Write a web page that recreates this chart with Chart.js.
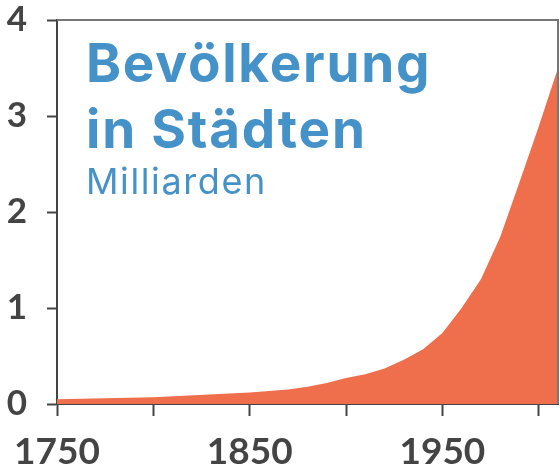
<!DOCTYPE html>
<html>
<head>
<meta charset="utf-8">
<script src="https://cdn.jsdelivr.net/npm/chart.js@4"></script>
<style>
  html, body { margin: 0; padding: 0; background: #fff; }
  #wrap { position: relative; width: 560px; height: 464px; }
  .t { position: absolute; left: 86px; color: #4592c9; font-family: Inter, "Open Sans", sans-serif; white-space: nowrap; }
  #t1 { top: 37px; font-size: 53px; font-weight: 700; line-height: 1; letter-spacing: 1.8px; }
  #t2 { top: 103px; font-size: 53px; font-weight: 700; line-height: 1; letter-spacing: 1.8px; }
  #t3 { top: 163px; font-size: 36px; font-weight: 400; line-height: 1; letter-spacing: 1.6px; }
</style>
</head>
<body>
<div id="wrap">
  <canvas id="chart" width="560" height="464"></canvas>
  <div class="t" id="t1">Bevölkerung</div>
  <div class="t" id="t2">in Städten</div>
  <div class="t" id="t3">Milliarden</div>
</div>
<script>
const years = [1750, 1800, 1850, 1870, 1880, 1890, 1900, 1910, 1920, 1930, 1940, 1950, 1960, 1970, 1980, 1990, 2000, 2010];
const urban = [0.05, 0.07, 0.12, 0.15, 0.18, 0.22, 0.27, 0.31, 0.37, 0.46, 0.57, 0.74, 1.0, 1.3, 1.74, 2.31, 2.89, 3.5];
const xLabels = [1750, 1850, 1950];
const yTicks = [0, 1, 2, 3, 4];

const axisColor = '#444';

// top and right frame lines
const frame = {
  id: 'frame',
  afterDraw(chart) {
    const { ctx, chartArea: a } = chart;
    ctx.save();
    ctx.strokeStyle = '#777';
    ctx.lineWidth = 2;
    ctx.beginPath();
    ctx.moveTo(a.left, a.top);
    ctx.lineTo(a.right, a.top);
    ctx.lineTo(a.right, a.bottom);
    ctx.stroke();
    ctx.restore();
  }
};

new Chart(document.getElementById('chart'), {
  type: 'line',
  data: {
    datasets: [{
      data: years.map((y, i) => ({ x: y, y: urban[i] })),
      fill: 'origin',
      backgroundColor: '#ef6e4b',
      borderWidth: 0,
      pointRadius: 0,
      tension: 0
    }]
  },
  options: {
    responsive: false,
    animation: false,
    layout: { padding: { top: 20, right: 2, left: 0, bottom: 0 } },
    plugins: { legend: { display: false }, tooltip: { enabled: false } },
    scales: {
      x: {
        type: 'linear',
        min: 1750,
        max: 2010,
        afterFit(s) { s.height = 60; s.paddingLeft = 0; s.paddingRight = 0; },
        border: { color: axisColor, width: 2 },
        grid: { drawOnChartArea: false, tickLength: 12, tickColor: axisColor, tickWidth: 2 },
        afterBuildTicks(s) { s.ticks = [1750, 1800, 1850, 1900, 1950, 2000].map(v => ({ value: v })); },
        ticks: {
          autoSkip: false,
          maxRotation: 0,
          padding: 14,
          color: axisColor,
          font: { family: 'Lato', size: 37, weight: 'bold' },
          callback: v => xLabels.includes(v) ? String(v) : ''
        }
      },
      y: {
        min: 0,
        max: 4,
        afterFit(s) { s.width = 57; s.paddingTop = 0; s.paddingBottom = 0; },
        afterBuildTicks(s) { s.ticks = yTicks.map(v => ({ value: v })); },
        border: { color: axisColor, width: 2 },
        grid: { drawOnChartArea: false, tickLength: 10, tickColor: axisColor, tickWidth: 2 },
        ticks: {
          padding: 20,
          color: axisColor,
          font: { family: 'Lato', size: 35, weight: 'bold' }
        }
      }
    }
  },
  plugins: [frame]
});
</script>
</body>
</html>
